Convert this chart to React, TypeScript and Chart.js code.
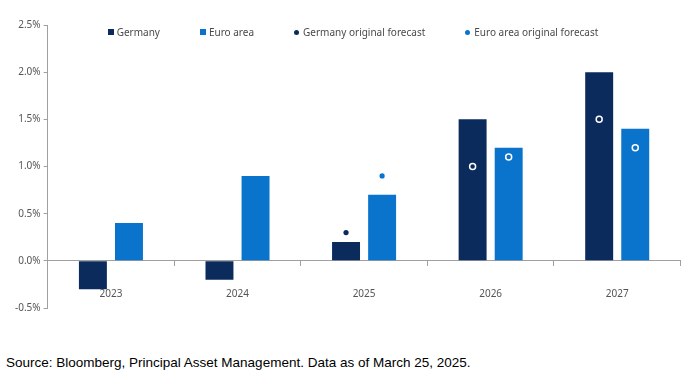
import React, { useEffect, useRef } from 'react';
import { Chart, registerables } from 'chart.js';

Chart.register(...registerables);

const years = ['2023', '2024', '2025', '2026', '2027'];
const germany = [-0.3, -0.2, 0.2, 1.5, 2.0];
const euroArea = [0.4, 0.9, 0.7, 1.2, 1.4];
const germanyForecast: (number | null)[] = [null, null, 0.3, 1.0, 1.5];
const euroAreaForecast: (number | null)[] = [null, null, 0.9, 1.1, 1.2];
const yTicks = [-0.5, 0, 0.5, 1.0, 1.5, 2.0, 2.5];
const seriesNames = ['Germany', 'Euro area', 'Germany original forecast', 'Euro area original forecast'];
const sourceText = 'Source: Bloomberg, Principal Asset Management. Data as of March 25, 2025.';

const NAVY = '#0b2b5c';
const BLUE = '#0a74cc';
const AXIS = '#a0a0a0';
const GROUP_PCT = 0.57; // share of a year slot used by the pair of bars
const BAR_PCT = 0.775; // share of a bar slot filled by the bar
const FONT = '"Noto Sans", "Open Sans", sans-serif';

// x position of a series within its year (index +- a quarter of the group width)
const slotX = (i: number, side: number) => i + side * (GROUP_PCT / 4);

function barPoints(values: number[], side: number) {
  return values.map((v, i) => ({ x: slotX(i, side), y: v }));
}

function forecastPoints(values: (number | null)[], actual: number[], side: number, color: string) {
  const pts: { x: number; y: number }[] = [];
  const border: string[] = [];
  const radius: number[] = [];
  const bw: number[] = [];
  values.forEach((v, i) => {
    if (v === null) return;
    // a forecast lying inside its bar is drawn as a white ring
    const inside = actual[i] >= v && v > 0;
    pts.push({ x: slotX(i, side), y: v });
    border.push(inside ? '#ffffff' : color);
    radius.push(inside ? 3 : 2.6);
    bw.push(inside ? 1.5 : 0);
  });
  return { pts, border, radius, bw };
}

export default function App() {
  const ref = useRef<HTMLCanvasElement | null>(null);

  useEffect(() => {
    if (!ref.current) return;
    const gf = forecastPoints(germanyForecast, germany, -1, NAVY);
    const ef = forecastPoints(euroAreaForecast, euroArea, 1, BLUE);
    const chart = new Chart(ref.current, {
      type: 'bar',
      data: {
        labels: years,
        datasets: [
          {
            type: 'bar',
            label: seriesNames[0],
            data: barPoints(germany, -1) as any,
            xAxisID: 'xf',
            backgroundColor: NAVY,
            grouped: false,
            categoryPercentage: 1,
            barPercentage: BAR_PCT,
            order: 2,
          },
          {
            type: 'bar',
            label: seriesNames[1],
            data: barPoints(euroArea, 1) as any,
            xAxisID: 'xf',
            backgroundColor: BLUE,
            grouped: false,
            categoryPercentage: 1,
            barPercentage: BAR_PCT,
            order: 2,
          },
          {
            type: 'line',
            label: seriesNames[2],
            data: gf.pts as any,
            xAxisID: 'xf',
            showLine: false,
            pointBackgroundColor: NAVY,
            pointBorderColor: gf.border,
            pointRadius: gf.radius,
            pointBorderWidth: gf.bw,
            order: 1,
          } as any,
          {
            type: 'line',
            label: seriesNames[3],
            data: ef.pts as any,
            xAxisID: 'xf',
            showLine: false,
            pointBackgroundColor: BLUE,
            pointBorderColor: ef.border,
            pointRadius: ef.radius,
            pointBorderWidth: ef.bw,
            order: 1,
          } as any,
        ],
      },
      options: {
        animation: false,
        responsive: false,
        maintainAspectRatio: false,
        layout: { padding: { left: 12, right: 5, top: 25, bottom: 42 } },
        plugins: {
          legend: { display: false },
          tooltip: { enabled: false },
        },
        scales: {
          x: {
            type: 'category',
            labels: years,
            position: { y: 0 } as any,
            offset: true,
            grid: { drawOnChartArea: false, drawTicks: true, tickLength: 5, color: AXIS, offset: true },
            border: { display: true, color: AXIS },
            ticks: { padding: 22, color: '#555', font: { family: FONT, size: 10 } },
          },
          xf: {
            type: 'linear',
            display: false,
            offset: false,
            min: -0.5,
            max: years.length - 0.5,
            ticks: { stepSize: 1 },
            grid: { offset: false },
          },
          y: {
            type: 'linear',
            min: yTicks[0],
            max: yTicks[yTicks.length - 1],
            afterBuildTicks: (s: any) => {
              s.ticks = yTicks.map((v) => ({ value: v }));
            },
            grid: { drawOnChartArea: false, drawTicks: true, tickLength: 4, color: AXIS },
            border: { display: true, color: AXIS },
            ticks: {
              padding: 3,
              color: '#555',
              font: { family: FONT, size: 10 },
              callback: (v: any) => Number(v).toFixed(1) + '%',
            },
          },
        },
      },
    });
    return () => chart.destroy();
  }, []);

  const legendItems = [
    { name: seriesNames[0], color: NAVY, shape: 'square' },
    { name: seriesNames[1], color: BLUE, shape: 'square' },
    { name: seriesNames[2], color: NAVY, shape: 'circle' },
    { name: seriesNames[3], color: BLUE, shape: 'circle' },
  ];

  return (
    <div style={{ position: 'absolute', left: 0, top: 0, width: 686, height: 373, background: '#fff' }}>
      <canvas ref={ref} width={686} height={350} style={{ display: 'block', width: 686, height: 350 }} />
      <div
        style={{
          position: 'absolute',
          left: 0,
          top: 25,
          width: 686,
          paddingLeft: 20,
          boxSizing: 'border-box',
          display: 'flex',
          justifyContent: 'center',
          gap: 40,
          fontFamily: FONT,
          fontSize: 10,
          color: '#4a4a4a',
          lineHeight: '14px',
        }}
      >
        {legendItems.map((it) => (
          <div key={it.name} style={{ display: 'flex', alignItems: 'center' }}>
            <span
              style={{
                display: 'inline-block',
                width: it.shape === 'square' ? 6 : 5,
                height: it.shape === 'square' ? 6 : 5,
                borderRadius: it.shape === 'square' ? 0 : '50%',
                background: it.color,
                marginRight: it.shape === 'square' ? 3 : 4,
              }}
            />
            <span>{it.name}</span>
          </div>
        ))}
      </div>
      <div
        style={{
          position: 'absolute',
          left: 6,
          top: 355,
          fontFamily: '"Liberation Sans", Arial, sans-serif',
          fontSize: 13.5,
          color: '#000',
          whiteSpace: 'nowrap',
        }}
      >
        {sourceText}
      </div>
    </div>
  );
}
